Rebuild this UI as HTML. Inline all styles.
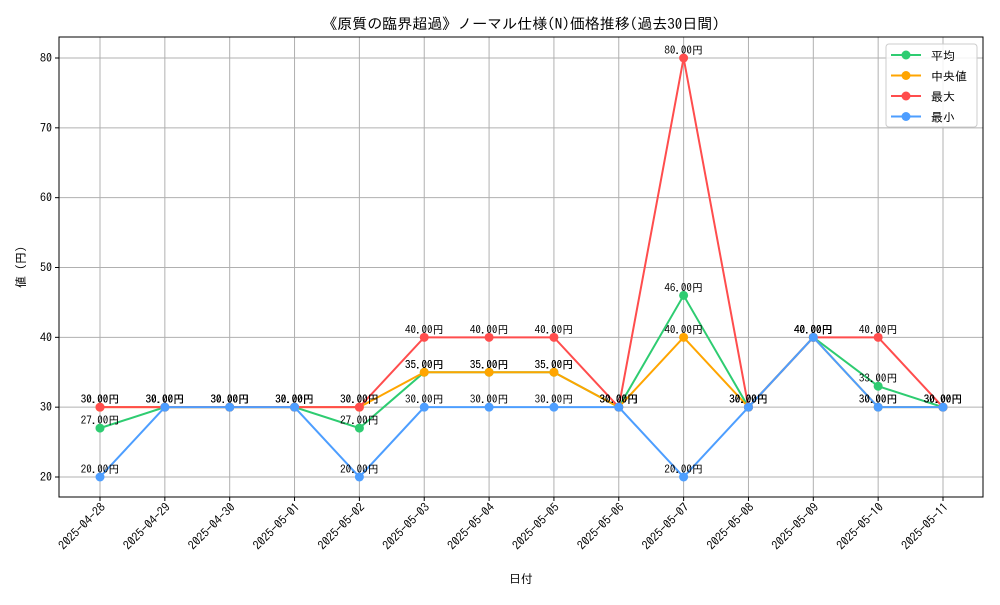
<!DOCTYPE html>
<html><head><meta charset="utf-8"><style>
body{margin:0;background:#fff}
svg{font-family:"IPAGothic","Liberation Sans","Noto Sans CJK JP",sans-serif}
</style></head><body>
<svg id="chart" width="1000" height="600" xmlns="http://www.w3.org/2000/svg">
<rect width="1000" height="600" fill="#fff"/>
<text x="521" y="29" font-size="15" text-anchor="middle">《原質の臨界超過》ノーマル仕様(N)価格推移(過去30日間)</text>
<g id="grid"></g><g id="axes"></g><g id="series"></g>
<rect x="59" y="37" width="924" height="460" fill="none" stroke="#000" stroke-width="1"/>
<text x="521" y="583" font-size="12" text-anchor="middle">日付</text>
<text transform="translate(25,267) rotate(-90)" font-size="12" text-anchor="middle">値 (円)</text>
<g id="legend"></g>
</svg>
<script>
const dates=["2025-04-28","2025-04-29","2025-04-30","2025-05-01","2025-05-02","2025-05-03","2025-05-04","2025-05-05","2025-05-06","2025-05-07","2025-05-08","2025-05-09","2025-05-10","2025-05-11"];
const avgVals=[27,30,30,30,27,35,35,35,30,46,30,40,33,30];
const medianVals=[30,30,30,30,30,35,35,35,30,40,30,40,30,30];
const maxVals=[30,30,30,30,30,40,40,40,30,80,30,40,40,30];
const minVals=[20,30,30,30,20,30,30,30,30,20,30,40,30,30];
const yTicks=[20,30,40,50,60,70,80];
const seriesNames=["平均","中央値","最大","最小"];
const NS="http://www.w3.org/2000/svg";
const X=i=>100+i*(943-100)/(dates.length-1);
const Y=v=>477-(v-20)*(477-58)/60;
function el(t,a,p){const e=document.createElementNS(NS,t);for(const k in a)e.setAttribute(k,a[k]);p.appendChild(e);return e;}
const grid=document.getElementById('grid'),axes=document.getElementById('axes'),ser=document.getElementById('series'),leg=document.getElementById('legend');
yTicks.forEach(v=>{
 const g=el('line',{x1:59,x2:983,y1:Y(v),y2:Y(v),stroke:'#b0b0b0','stroke-width':1},grid);
 
 
 el('line',{x1:55,x2:59,y1:Y(v),y2:Y(v),stroke:'#000'},axes);
 const t=el('text',{x:52,y:Y(v)+4,'font-size':12,'text-anchor':'end'},axes);
 
 
 t.textContent=v;
});
dates.forEach((d,i)=>{
 const g=el('line',{x1:X(i),x2:X(i),y1:37,y2:497,stroke:'#b0b0b0','stroke-width':1},grid);
 
 
 el('line',{x1:X(i),x2:X(i),y1:497,y2:501,stroke:'#000'},axes);
 const t=el('text',{x:X(i)+6,y:508,'font-size':12,'text-anchor':'end',transform:`rotate(-45 ${X(i)+6} 508)`},axes);
 
 
 t.textContent=d;
});
const cols=['#2ecc71','#ffa500','#ff4d4d','#4d9eff'];
const all=[avgVals,medianVals,maxVals,minVals];
all.forEach((vals,si)=>{
 const c=cols[si];
 const g=el('g',{},ser);
 
 
 const p=el('polyline',{points:vals.map((v,i)=>X(i)+','+Y(v)).join(' '),fill:'none',stroke:c,'stroke-width':2},g);
 
 
 vals.forEach((v,i)=>{
  const m=el('circle',{cx:X(i),cy:Y(v),r:4.5,fill:c},g);
  
  
 });
});
all.forEach(vals=>{
 vals.forEach((v,i)=>{
  const t=el('text',{x:X(i),y:Y(v)-4,'font-size':11,'text-anchor':'middle'},ser);
  
  
  t.textContent=v.toFixed(2)+'円';
 });
});
el('rect',{x:886,y:44,width:91,height:83,rx:3,fill:'#fff','fill-opacity':0.85,stroke:'#ccc'},leg);
seriesNames.forEach((n,i)=>{
 const y=55+i*20.5;
 const g=el('g',{},leg);
 
 
 el('line',{x1:891,x2:921,y1:y,y2:y,stroke:cols[i],'stroke-width':2},g);
 el('circle',{cx:906,cy:y,r:4.5,fill:cols[i]},g);
 const t=el('text',{x:931,y:y+5,'font-size':12},g);
 t.textContent=(i==1?' ':'')+n;
});
</script>
</body></html>
